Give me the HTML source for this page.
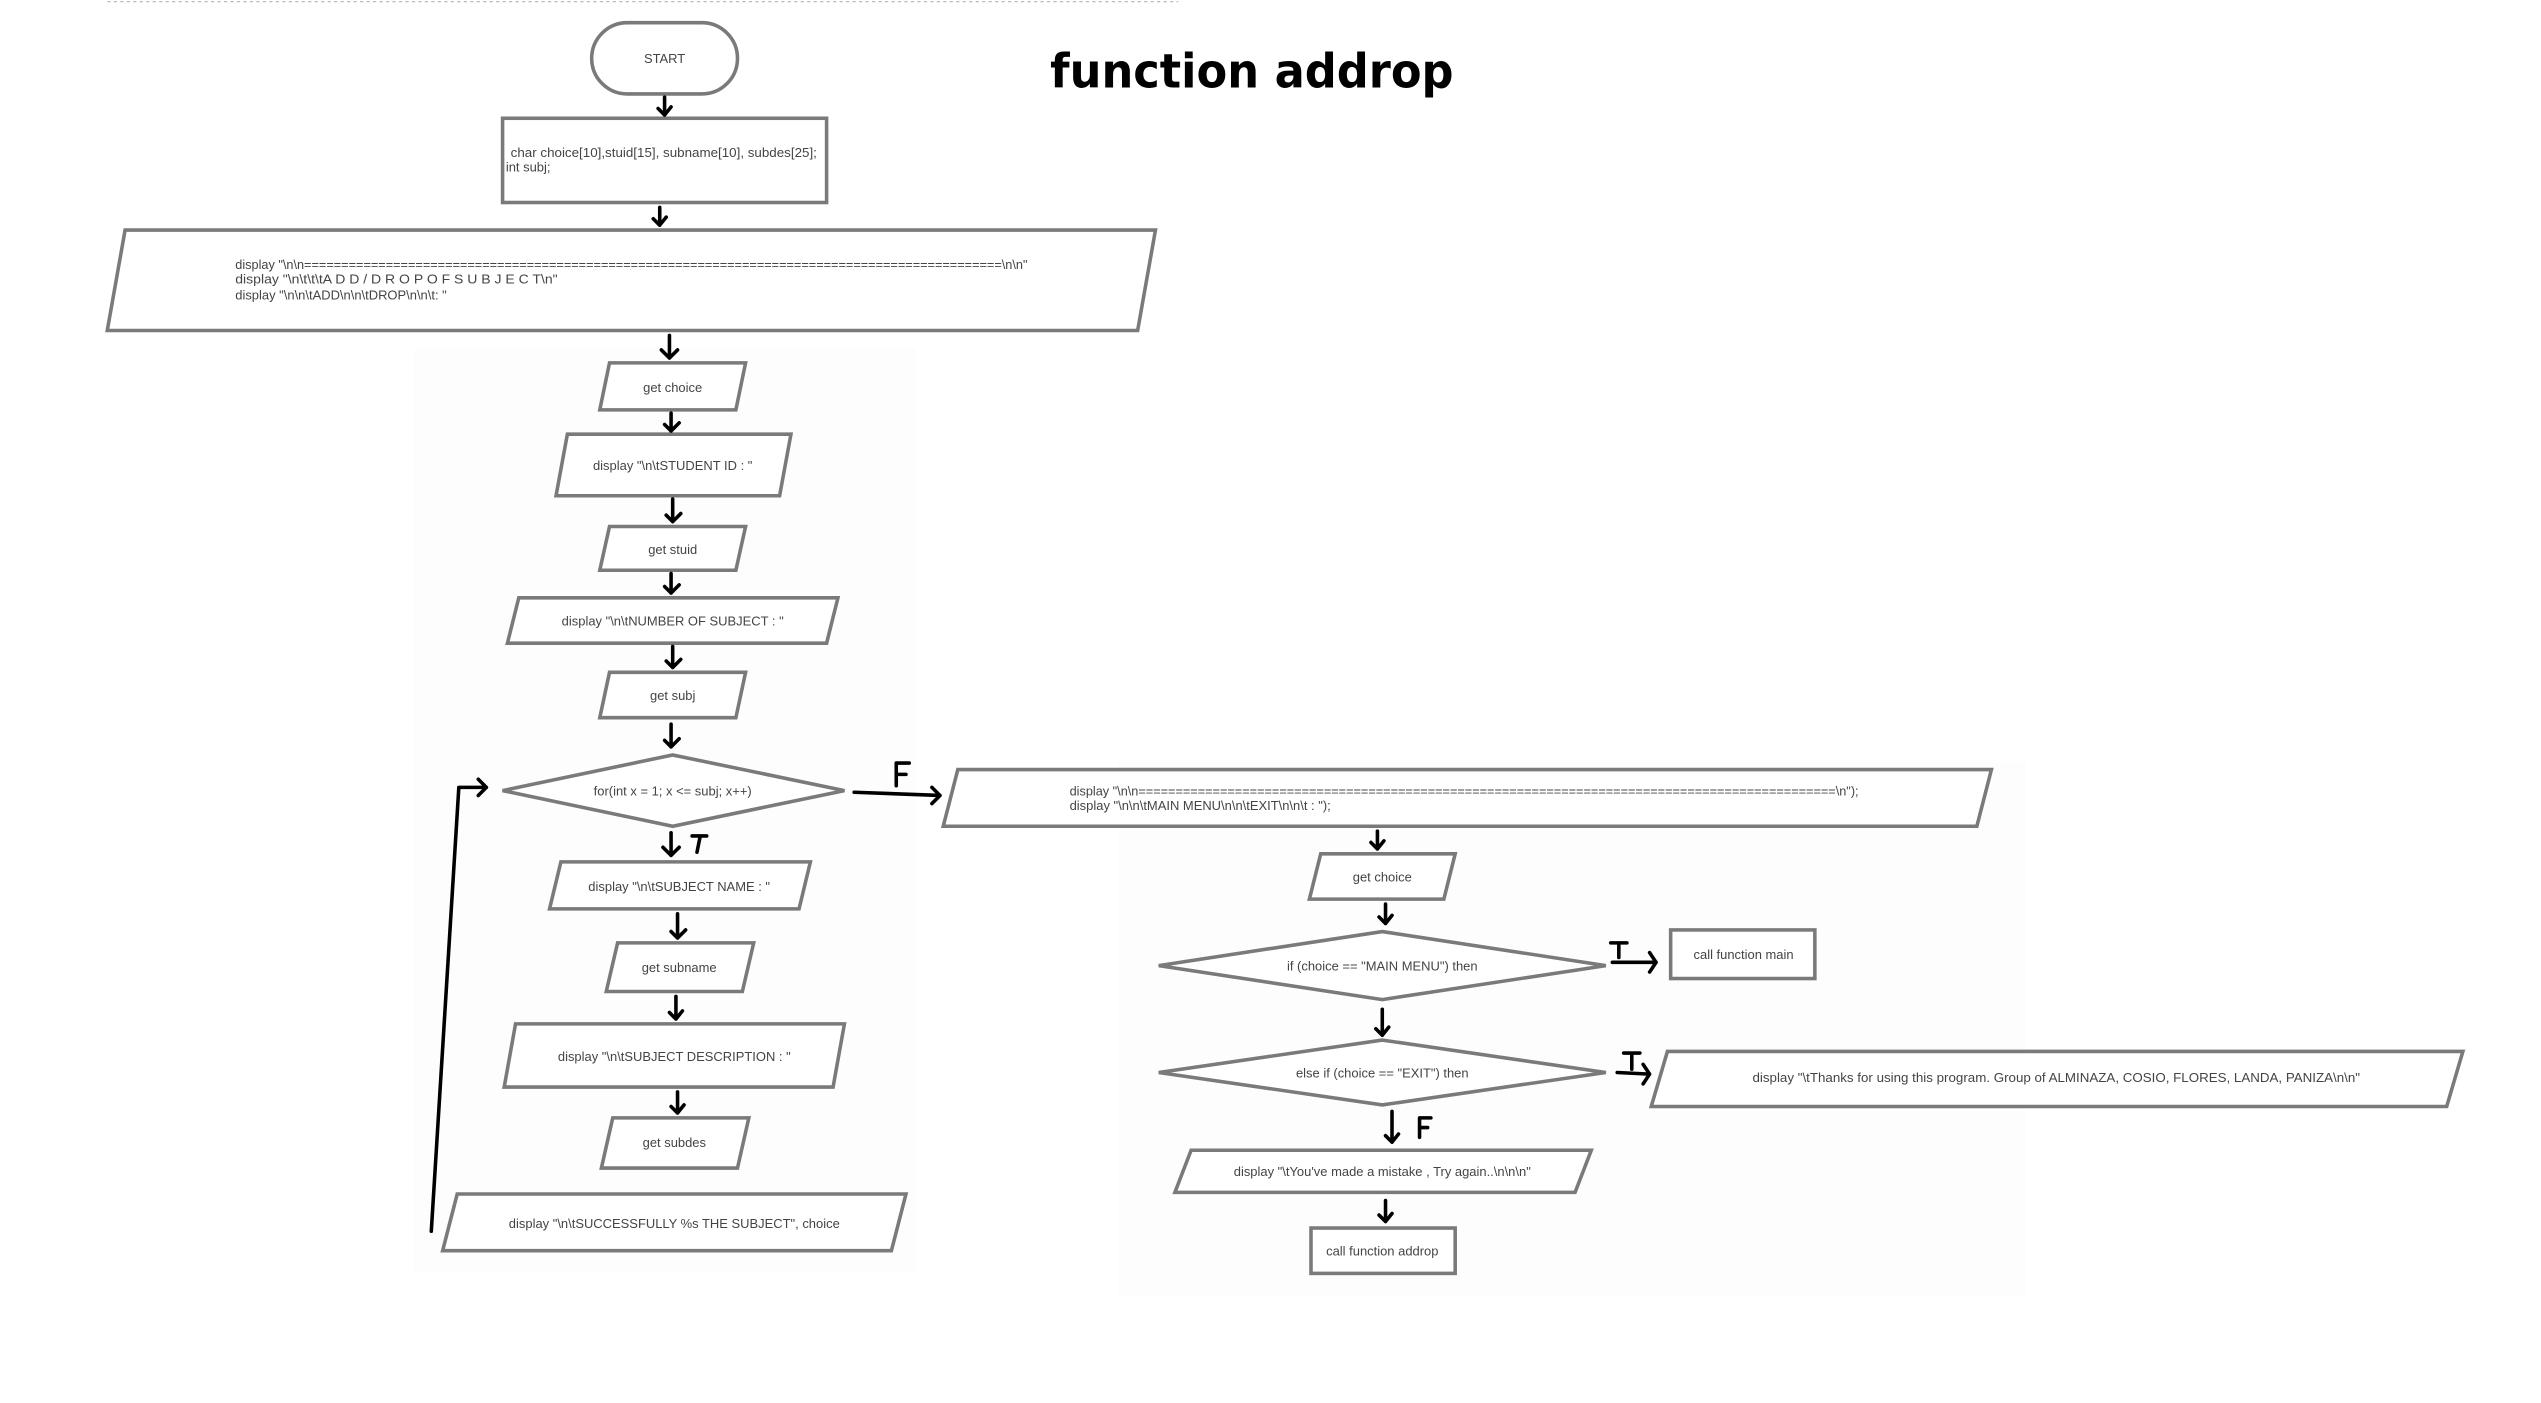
<!DOCTYPE html>
<html><head><meta charset="utf-8"><style>
html,body{margin:0;padding:0;background:#fff;width:2541px;height:1403px;overflow:hidden}
svg{display:block}
text{font-family:"Liberation Sans",sans-serif;fill:#444;font-size:8px}
.s{fill:#fff;stroke:#7a7a7a;stroke-width:2.2}
.a{fill:none;stroke:#000;stroke-width:2.2;stroke-linecap:round;stroke-linejoin:round}
</style></head><body>
<svg width="2541" height="1403" viewBox="0 0 1568 866" xmlns="http://www.w3.org/2000/svg">
<rect x="255" y="215" width="310" height="570" fill="#fdfdfd"/>
<rect x="690" y="470" width="560" height="330" fill="#fdfdfd"/>
<line x1="66" y1="1" x2="727" y2="1" stroke="#bbb" stroke-width="0.8" stroke-dasharray="2,2"/>
<text x="648" y="54" textLength="249" lengthAdjust="spacingAndGlyphs" style="font-family:'DejaVu Sans',sans-serif;font-weight:bold;font-size:29px;fill:#000">function addrop</text>

<rect class="s" x="365" y="14" width="90" height="44" rx="22"/>
<text x="410" y="39" text-anchor="middle">START</text>
<rect class="s" x="310" y="73" width="200" height="52"/>
<text x="315" y="97" textLength="189" lengthAdjust="spacingAndGlyphs">char choice[10],stuid[15], subname[10], subdes[25];</text>
<text x="312" y="106">int subj;</text>
<polygon class="s" points="77,142 713,142 702,204 66,204"/>
<text x="145" y="166" textLength="489" lengthAdjust="spacingAndGlyphs">display "\n\n==============================================================================================\n\n"</text>
<text x="145" y="175" textLength="199" lengthAdjust="spacingAndGlyphs">display "\n\t\t\tA D D  /  D R O P  O F  S U B J E C T\n"</text>
<text x="145" y="185">display "\n\n\tADD\n\n\tDROP\n\n\t: "</text>

<polygon class="s" points="376,224 460,224 454,253 370,253"/><text x="415" y="242" text-anchor="middle">get choice</text>
<polygon class="s" points="350,268 488,268 481,306 343,306"/><text x="415" y="290" text-anchor="middle">display "\n\tSTUDENT ID : "</text>
<polygon class="s" points="376,325 460,325 454,352 370,352"/><text x="415" y="342" text-anchor="middle">get stuid</text>
<polygon class="s" points="320,369 517,369 510,397 313,397"/><text x="415" y="386" text-anchor="middle">display "\n\tNUMBER OF SUBJECT : "</text>
<polygon class="s" points="376,415 460,415 454,443 370,443"/><text x="415" y="432" text-anchor="middle">get subj</text>
<polygon class="s" points="310,488 415,466 521,488 415,510"/><text x="415" y="491" text-anchor="middle">for(int x = 1; x &lt;= subj; x++)</text>
<polygon class="s" points="346,532 500,532 493,561 339,561"/><text x="419" y="550" text-anchor="middle">display "\n\tSUBJECT NAME : "</text>
<polygon class="s" points="381,582 465,582 458,612 374,612"/><text x="419" y="600" text-anchor="middle">get subname</text>
<polygon class="s" points="318,632 521,632 514,671 311,671"/><text x="416" y="655" text-anchor="middle">display "\n\tSUBJECT DESCRIPTION : "</text>
<polygon class="s" points="378,690 462,690 455,721 371,721"/><text x="416" y="708" text-anchor="middle">get subdes</text>
<polygon class="s" points="282,737 559,737 550,772 273,772"/><text x="416" y="758" text-anchor="middle">display "\n\tSUCCESSFULLY %s THE SUBJECT", choice</text>

<polygon class="s" points="591,475 1229,475 1220,510 582,510"/>
<text x="660" y="491" textLength="487" lengthAdjust="spacingAndGlyphs">display "\n\n==============================================================================================\n");</text>
<text x="660" y="500">display "\n\n\tMAIN MENU\n\n\tEXIT\n\n\t : ");</text>
<polygon class="s" points="815,527 898,527 891,555 808,555"/><text x="853" y="544" text-anchor="middle">get choice</text>
<polygon class="s" points="715,596 853,575 991,596 853,617"/><text x="853" y="599" text-anchor="middle">if (choice == "MAIN MENU") then</text>
<rect class="s" x="1031" y="574" width="89" height="30"/><text x="1076" y="592" text-anchor="middle">call function main</text>
<polygon class="s" points="715,662 853,642 991,662 853,682"/><text x="853" y="665" text-anchor="middle">else if (choice == "EXIT") then</text>
<polygon class="s" points="1029,649 1520,649 1510,683 1019,683"/><text x="1269" y="668" text-anchor="middle" textLength="375" lengthAdjust="spacingAndGlyphs">display "\tThanks for using this program. Group of ALMINAZA, COSIO, FLORES, LANDA, PANIZA\n\n"</text>
<polygon class="s" points="735,710 982,710 972,736 725,736"/><text x="853" y="726" text-anchor="middle">display "\tYou've made a mistake , Try again..\n\n\n"</text>
<rect class="s" x="809" y="758" width="89" height="28"/><text x="853" y="775" text-anchor="middle">call function addrop</text>

<g class="a">
<path d="M410 60V71M406 67L410 71L414 66"/>
<path d="M407 128V139M403 135L407 139L411 134"/>
<path d="M413 207V221M408 216L413 221L418 216"/>
<path d="M414 255V266M410 262L414 266L419 261"/>
<path d="M415 308V322M411 318L415 322L420 317"/>
<path d="M414 354V366M410 362L414 366L419 361"/>
<path d="M415 399V412M411 408L415 412L420 407"/>
<path d="M414 447V461M410 457L414 461L419 456"/>
<path d="M414 514V528M409 523L414 528L419 523"/>
<path d="M418 564V579M414 575L418 579L423 574"/>
<path d="M417 615V629M413 625L417 629L421 624"/>
<path d="M418 674V687M414 683L418 687L422 682"/>
<path d="M266 760L283 486H300M295 481L300 486L295 491"/>
<path d="M527 489L580 491M575 486L580 491L575 496"/>
<path d="M850 513V524M846 520L850 524L854 519"/>
<path d="M855 558V570M851 566L855 570L859 565"/>
<path d="M853 623V639M849 635L853 639L857 634"/>
<path d="M859 686V705M855 701L859 705L863 700"/>
<path d="M855 741V754M851 750L855 754L859 749"/>
<path d="M995 594L1022 594M1018 588L1022 594L1018 600"/>
<path d="M998 662L1018 663M1014 657L1018 663L1014 669"/>
<path d="M553 485V471H561M553 478H559"/>
<path d="M427 516H436M432 516L430 526"/>
<path d="M876 702V690H883M876 696H881"/>
<path d="M994 582H1004M999 582V591"/>
<path d="M1002 650H1012M1007 650V660"/>
</g>
</svg>
</body></html>
